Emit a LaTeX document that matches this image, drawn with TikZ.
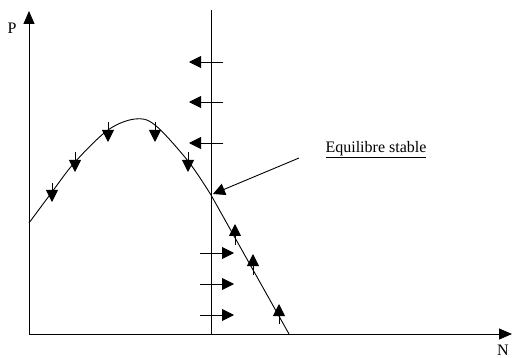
\documentclass[tikz,border=0pt]{standalone}
\usepackage{fontspec}
\setmainfont{Liberation Serif}
\usetikzlibrary{arrows.meta}
\begin{document}
\begin{tikzpicture}[x=1pt,y=-1pt,
  line width=0.9pt,
  big/.style={-{Triangle[length=13pt,width=11pt]}},
  small/.style={-{Triangle[length=12pt,width=12pt]}},
  lbl/.style={font=\fontsize{16}{18}\selectfont, inner sep=0pt}]
\useasboundingbox (0,0) rectangle (514,358);
% axes
\coordinate (O) at (29,334);
\coordinate (Ytop) at (29,11);
\coordinate (Xend) at (512,334);
\draw[big] (O) -- (Ytop);
\draw[big] (O) -- (Xend);
\node[lbl] (P) at (12,28) {P};
\node[lbl] (N) at (503,350) {N};
% vertical line
\coordinate (Vt) at (211,10);
\coordinate (Vb) at (211,334);
\draw (Vt) -- (Vb);
% curve
\draw plot[smooth, tension=0.55] coordinates {(29,223) (52,192) (75,162) (108,130) (135,119) (155,125) (188,161) (211,195)} -- (289,334);
% down arrows on curve
\foreach \x/\a/\b in {52/183/202, 75/152/172, 108/122/142, 155/122/142, 188/152/172}
  \draw[small] (\x,\a) -- (\x,\b);
% up arrows
\foreach \x/\a/\b in {235/245/224, 253/275/254, 279/324/304}
  \draw[small] (\x,\a) -- (\x,\b);
% left arrows
\foreach \y in {62,102,143}
  \draw[small] (223,\y) -- (189,\y);
% right arrows
\foreach \y in {253,284,315}
  \draw[small] (200,\y) -- (234,\y);
% label
\node[lbl] (eq) at (376,150) {\underline{Equilibre stable}};
\coordinate (ps) at (299,158);
\coordinate (pe) at (213,194);
\draw[small] (ps) -- (pe);
\end{tikzpicture}
\end{document}
